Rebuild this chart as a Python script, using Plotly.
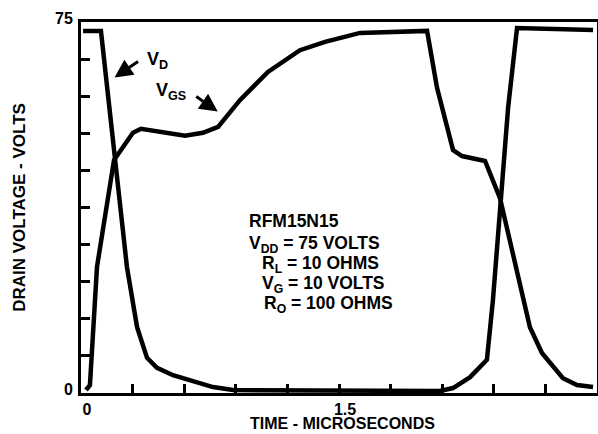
import plotly.graph_objects as go

# ---- data ----
vd_t = [0.012, 0.116, 0.267, 0.326, 0.384, 0.442, 0.535, 0.767, 0.884, 2.087,
        2.163, 2.262, 2.360, 2.395, 2.483, 2.535, 2.977]
vd_v = [73.2, 73.2, 25.5, 13.3, 7.1, 5.1, 3.6, 1.2, 0.6, 0.4,
        1.0, 3.2, 6.7, 18.8, 57.6, 73.8, 73.4]

vgs_t = [0.029, 0.052, 0.093, 0.192, 0.302, 0.349, 0.605, 0.709, 0.797, 0.924,
         1.087, 1.273, 1.419, 1.622, 2.012, 2.070, 2.163, 2.215, 2.349, 2.436,
         2.610, 2.680, 2.802, 2.884, 2.977]
vgs_v = [0.6, 1.6, 25.5, 47.1, 52.6, 53.4, 52.0, 52.6, 53.8, 59.2,
         64.9, 69.3, 71.0, 72.8, 73.2, 61.7, 49.1, 47.9, 46.9, 39.4,
         13.3, 8.1, 3.0, 1.6, 1.2]

x_tickvals = [0, 0.3, 0.6, 0.9, 1.2, 1.5, 1.8, 2.1, 2.4, 2.7, 3.0]
x_ticktext = ["0", "", "", "", "", "1.5", "", "", "", "", "3"]
y_tickvals = [0, 7.5, 15, 22.5, 30, 37.5, 45, 52.5, 60, 67.5, 75]
y_ticktext = ["0", "", "", "", "", "", "", "", "", "", "75"]

x_title = "TIME - MICROSECONDS"
y_title = "DRAIN VOLTAGE - VOLTS"

info_lines = ["RFM15N15",
              "V<sub>DD</sub> = 75 VOLTS",
              "R<sub>L</sub> = 10 OHMS",
              "V<sub>G</sub> = 10 VOLTS",
              "R<sub>O</sub> = 100 OHMS"]

FONT = "Liberation Sans, Arial, Helvetica, sans-serif"

fig = go.Figure()
fig.add_trace(go.Scatter(x=vd_t, y=vd_v, mode="lines", name="VD",
                         line=dict(color="black", width=4.5)))
fig.add_trace(go.Scatter(x=vgs_t, y=vgs_v, mode="lines", name="VGS",
                         line=dict(color="black", width=4.5)))

ann = []
# curve labels with arrows
ann.append(dict(x=0.195, y=63.8, ax=25, ay=-17, xref="x", yref="y",
                text="", showarrow=True, arrowhead=2, arrowsize=1.2,
                arrowwidth=3, arrowcolor="black"))
ann.append(dict(x=0.795, y=56.9, ax=-23, ay=-16, xref="x", yref="y",
                text="", showarrow=True, arrowhead=2, arrowsize=1.2,
                arrowwidth=3, arrowcolor="black"))
ann.append(dict(x=0.372, y=67.3, xref="x", yref="y", text="V<sub>D</sub>",
                showarrow=False, xanchor="left", yanchor="middle",
                font=dict(family=FONT, size=18, color="black", weight=700)))
ann.append(dict(x=0.427, y=61.0, xref="x", yref="y", text="V<sub>GS</sub>",
                showarrow=False, xanchor="left", yanchor="middle",
                font=dict(family=FONT, size=18, color="black", weight=700)))

info_x = [0.965, 0.965, 1.041, 1.041, 1.052]
info_y = [34.8, 30.0, 26.0, 21.9, 17.9]
for t, xx, yy in zip(info_lines, info_x, info_y):
    ann.append(dict(x=xx, y=yy, xref="x", yref="y", text=t, showarrow=False,
                    xanchor="left", yanchor="middle",
                    font=dict(family=FONT, size=17.5, color="black", weight=700)))

# x-axis title placed below the tick labels
ann.append(dict(x=0.507, y=-0.1105, xref="paper", yref="paper", text=x_title,
                showarrow=False, xanchor="center", yanchor="bottom",
                font=dict(family=FONT, size=16, color="black", weight=700)))

fig.update_layout(
    width=598, height=434,
    margin=dict(l=81, r=1, t=22, b=41, pad=0, autoexpand=False),
    paper_bgcolor="white", plot_bgcolor="white",
    showlegend=False,
    font=dict(family=FONT, color="black", weight=700),
    annotations=ann,
)
fig.update_xaxes(
    range=[0, 3], tickvals=x_tickvals, ticktext=x_ticktext,
    ticks="inside", ticklen=9, tickwidth=3, tickcolor="black",
    showline=True, linewidth=3, linecolor="black", mirror=True,
    showgrid=False, zeroline=False, automargin=False,
    tickfont=dict(family=FONT, size=16, color="black", weight=700),
    ticklabelshift=6, ticklabelstandoff=0,
)
fig.update_yaxes(
    range=[0, 75], tickvals=y_tickvals, ticktext=y_ticktext,
    ticks="inside", ticklen=9, tickwidth=3, tickcolor="black",
    showline=True, linewidth=3, linecolor="black", mirror=True,
    showgrid=False, zeroline=False, automargin=False,
    tickfont=dict(family=FONT, size=16, color="black", weight=700),
    ticklabelshift=-4, ticklabelstandoff=2,
    title=dict(text=y_title, standoff=26,
               font=dict(family=FONT, size=17, color="black", weight=700)),
)

fig.write_html("out.html")
